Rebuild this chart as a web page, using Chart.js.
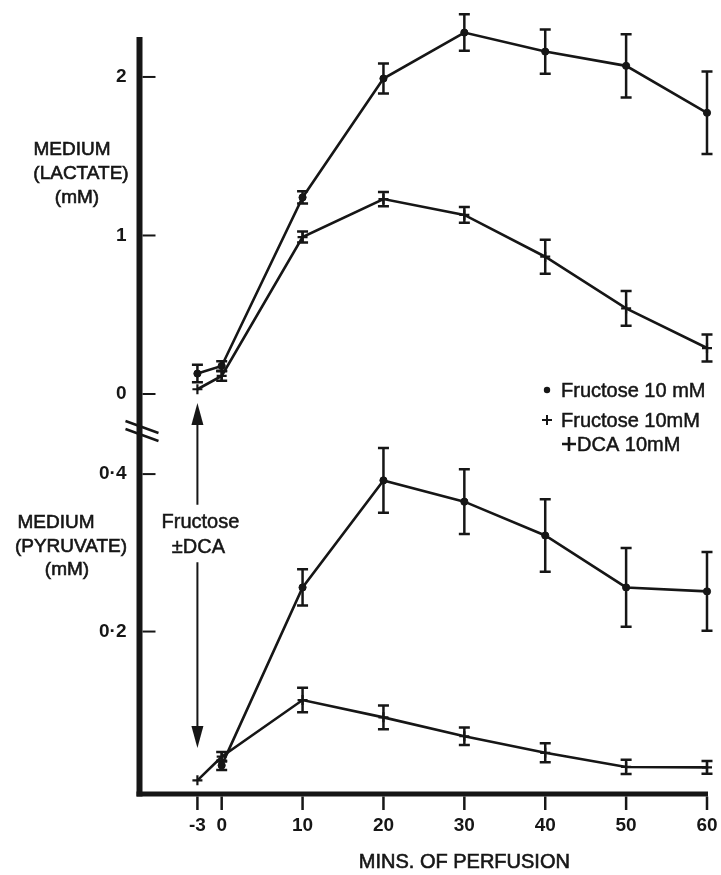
<!DOCTYPE html>
<html><head><meta charset="utf-8">
<script src="https://cdn.jsdelivr.net/npm/chart.js@4/dist/chart.umd.min.js"></script>
<style>html,body{margin:0;padding:0;background:#fff;}#wrap{width:721px;height:875px;}</style>
</head><body><div id="wrap"><canvas id="c" width="721" height="875"></canvas></div>
<script>
// ---- data ----
const minutes = [-3, 0, 10, 20, 30, 40, 50, 60];
const xTicks = [-3, 0, 10, 20, 30, 40, 50, 60];
const lactateTicks = [0, 1, 2];
const pyruvateTicks = [0.2, 0.4];
const pyruvateTickLabels = ['0·2', '0·4'];

// Medium lactate (mM)
const lactateFructose    = [0.129, 0.177, 1.24, 1.99, 2.28, 2.16, 2.07, 1.774];
const lactateFructoseErr = [0.055, 0.03, 0.039, 0.095, 0.115, 0.14, 0.2, 0.26];
const lactateDCA         = [0.03, 0.114, 0.99, 1.23, 1.13, 0.866, 0.54, 0.29];
const lactateDCAErr      = [0, 0.03, 0.035, 0.045, 0.05, 0.107, 0.11, 0.085];

// Medium pyruvate (mM)
const pyruvateFructose    = [null, 0.03, 0.256, 0.392, 0.365, 0.322, 0.256, 0.251];
const pyruvateFructoseErr = [0, 0.006, 0.023, 0.041, 0.041, 0.046, 0.05, 0.05];
const pyruvateDCA         = [0.011, 0.041, 0.113, 0.091, 0.067, 0.046, 0.028, 0.0275];
const pyruvateDCAErr      = [0, 0.006, 0.0155, 0.015, 0.011, 0.012, 0.009, 0.008];

const ink = '#161616';
const FONT = '"Liberation Sans", Arial, Helvetica, sans-serif';

function pts(vals) { return minutes.map((m, i) => ({x: m, y: vals[i]})); }

function ds(vals, axis, style) {
  return {
    data: pts(vals), yAxisID: axis, borderColor: ink, backgroundColor: ink,
    borderWidth: 2.6, pointStyle: style, pointRadius: style === 'cross' ? 5 : 3.6,
    pointBorderWidth: style === 'cross' ? 2.2 : 1, pointBackgroundColor: ink, pointBorderColor: ink,
    tension: 0, clip: false, spanGaps: false
  };
}

function noPad(s) { s.paddingLeft = 0; s.paddingRight = 0; s.paddingTop = 0; s.paddingBottom = 0; }

function txt(ctx, s, x, y) { ctx.fillText(s, x, y); ctx.strokeText(s, x, y); }

const decor = {
  id: 'decor',
  beforeDatasetsDraw(chart) {
    const ctx = chart.ctx, xs = chart.scales.x;
    const sets = [
      [lactateFructose, lactateFructoseErr, chart.scales.yL],
      [lactateDCA, lactateDCAErr, chart.scales.yL],
      [pyruvateFructose, pyruvateFructoseErr, chart.scales.yP],
      [pyruvateDCA, pyruvateDCAErr, chart.scales.yP]
    ];
    ctx.save();
    ctx.strokeStyle = ink; ctx.lineWidth = 2.5; ctx.lineCap = 'butt';
    sets.forEach(([v, e, ys]) => {
      v.forEach((val, i) => {
        if (val == null || !e[i]) return;
        const px = xs.getPixelForValue(minutes[i]);
        const t = ys.getPixelForValue(val + e[i]);
        const b = ys.getPixelForValue(val - e[i]);
        ctx.beginPath();
        ctx.moveTo(px, t); ctx.lineTo(px, b);
        ctx.moveTo(px - 5.5, t); ctx.lineTo(px + 5.5, t);
        ctx.moveTo(px - 5.5, b); ctx.lineTo(px + 5.5, b);
        ctx.stroke();
      });
    });
    ctx.restore();
  },
  afterDraw(chart) {
    const ctx = chart.ctx, a = chart.chartArea;
    const xs = chart.scales.x, yL = chart.scales.yL, yP = chart.scales.yP;
    ctx.save();
    ctx.strokeStyle = ink; ctx.fillStyle = ink;
    // axes
    const axX = a.left, axY = a.bottom + 5;
    ctx.lineWidth = 6;
    ctx.beginPath(); ctx.moveTo(axX, a.top); ctx.lineTo(axX, axY + 2.5); ctx.stroke();
    ctx.lineWidth = 5;
    ctx.beginPath(); ctx.moveTo(axX - 3, axY); ctx.lineTo(xs.getPixelForValue(60) + 1, axY); ctx.stroke();
    // y tick marks (inward)
    ctx.lineWidth = 2;
    lactateTicks.forEach(v => { const p = yL.getPixelForValue(v); ctx.beginPath(); ctx.moveTo(axX + 3, p); ctx.lineTo(axX + 16, p); ctx.stroke(); });
    pyruvateTicks.forEach(v => { const p = yP.getPixelForValue(v); ctx.beginPath(); ctx.moveTo(axX + 3, p); ctx.lineTo(axX + 16, p); ctx.stroke(); });
    // x tick marks
    ctx.lineWidth = 2.5;
    xTicks.forEach(v => { const p = xs.getPixelForValue(v); ctx.beginPath(); ctx.moveTo(p, axY + 2.5); ctx.lineTo(p, axY + 16); ctx.stroke(); });
    // axis break
    const b = yL.bottom;
    ctx.lineWidth = 2.4;
    ctx.beginPath();
    ctx.moveTo(axX - 14, b - 9); ctx.lineTo(axX + 19, b + 3);
    ctx.moveTo(axX - 14, b - 1); ctx.lineTo(axX + 19, b + 11);
    ctx.stroke();
    // axis titles
    ctx.lineWidth = 0.6;
    ctx.textBaseline = 'middle'; ctx.textAlign = 'center';
    ctx.font = '19px ' + FONT;
    const lt = yL.getPixelForValue(1);
    txt(ctx, 'MEDIUM', 72, lt - 86);
    txt(ctx, '(LACTATE)', 81, lt - 62);
    txt(ctx, '(mM)', 77, lt - 38);
    const pt = yP.getPixelForValue(0.4);
    txt(ctx, 'MEDIUM', 56, pt + 49);
    txt(ctx, '(PYRUVATE)', 71, pt + 73);
    txt(ctx, '(mM)', 67, pt + 96);
    ctx.font = '20px ' + FONT;
    txt(ctx, 'MINS. OF PERFUSION', xs.getPixelForValue(30), 862);
    // annotation arrow
    const ax = xs.getPixelForValue(-3);
    const tipTop = yL.getPixelForValue(-0.057);
    const tipBot = yP.getPixelForValue(0.052);
    const gapTop = yP.getPixelForValue(0.361);
    const gapBot = yP.getPixelForValue(0.288);
    ctx.lineWidth = 2;
    ctx.beginPath(); ctx.moveTo(ax, tipTop + 18); ctx.lineTo(ax, gapTop);
    ctx.moveTo(ax, gapBot); ctx.lineTo(ax, tipBot - 18); ctx.stroke();
    ctx.beginPath(); ctx.moveTo(ax, tipTop); ctx.lineTo(ax - 6, tipTop + 22); ctx.lineTo(ax + 6, tipTop + 22); ctx.closePath(); ctx.fill();
    ctx.beginPath(); ctx.moveTo(ax, tipBot); ctx.lineTo(ax - 6, tipBot - 22); ctx.lineTo(ax + 6, tipBot - 22); ctx.closePath(); ctx.fill();
    ctx.lineWidth = 0.5;
    ctx.font = '20px ' + FONT;
    txt(ctx, 'Fructose', ax + 3, yP.getPixelForValue(0.338));
    txt(ctx, '±DCA', ax + 1, yP.getPixelForValue(0.307));
    // legend
    ctx.textAlign = 'left';
    ctx.font = '20px ' + FONT;
    ctx.beginPath(); ctx.arc(547, 390, 3.2, 0, Math.PI * 2); ctx.fill();
    txt(ctx, 'Fructose 10 mM', 561, 391);
    txt(ctx, 'Fructose 10mM', 561, 421);
    txt(ctx, 'DCA 10mM', 577, 445);
    ctx.lineWidth = 2;
    ctx.beginPath(); ctx.moveTo(542, 420); ctx.lineTo(552, 420); ctx.moveTo(547, 415); ctx.lineTo(547, 425); ctx.stroke();
    ctx.lineWidth = 2.6;
    ctx.beginPath(); ctx.moveTo(562, 444); ctx.lineTo(576, 444); ctx.moveTo(569, 437); ctx.lineTo(569, 451); ctx.stroke();
    ctx.restore();
  }
};

new Chart(document.getElementById('c'), {
  type: 'line',
  data: { datasets: [
    ds(lactateFructose, 'yL', 'circle'),
    ds(lactateDCA, 'yL', 'cross'),
    ds(pyruvateFructose, 'yP', 'circle'),
    ds(pyruvateDCA, 'yP', 'cross')
  ]},
  options: {
    responsive: false, animation: false, devicePixelRatio: 1,
    layout: { padding: { left: 0, top: 37, right: 14, bottom: 0 } },
    plugins: { legend: { display: false }, tooltip: { enabled: false } },
    scales: {
      x: {
        type: 'linear', min: -10.16, max: 60,
        afterBuildTicks: s => { s.ticks = xTicks.map(v => ({value: v})); },
        afterFit: s => { s.height = 86; noPad(s); },
        grid: { display: false, drawTicks: false }, border: { display: false },
        ticks: { color: ink, padding: 25, maxRotation: 0, autoSkip: false,
          font: { family: FONT, size: 19, weight: 'bold' }, callback: v => String(v) }
      },
      yP: {
        type: 'linear', position: 'left', stack: 'y', stackWeight: 359,
        min: 0, max: 0.456,
        afterBuildTicks: s => { s.ticks = pyruvateTicks.map(v => ({value: v})); },
        afterFit: s => { s.width = 139.5; noPad(s); },
        grid: { display: false, drawTicks: false }, border: { display: false },
        ticks: { color: ink, padding: 13, font: { family: FONT, size: 19, weight: 'bold' },
          callback: v => { const i = pyruvateTicks.indexOf(v); return i >= 0 ? pyruvateTickLabels[i] : ''; } }
      },
      yL: {
        type: 'linear', position: 'left', stack: 'y', stackWeight: 393,
        min: -0.227, max: 2.252,
        afterBuildTicks: s => { s.ticks = lactateTicks.map(v => ({value: v})); },
        afterFit: s => { s.width = 139.5; noPad(s); },
        grid: { display: false, drawTicks: false }, border: { display: false },
        ticks: { color: ink, padding: 13, font: { family: FONT, size: 19, weight: 'bold' }, callback: v => String(v) }
      }
    }
  },
  plugins: [decor]
});
</script></body></html>
